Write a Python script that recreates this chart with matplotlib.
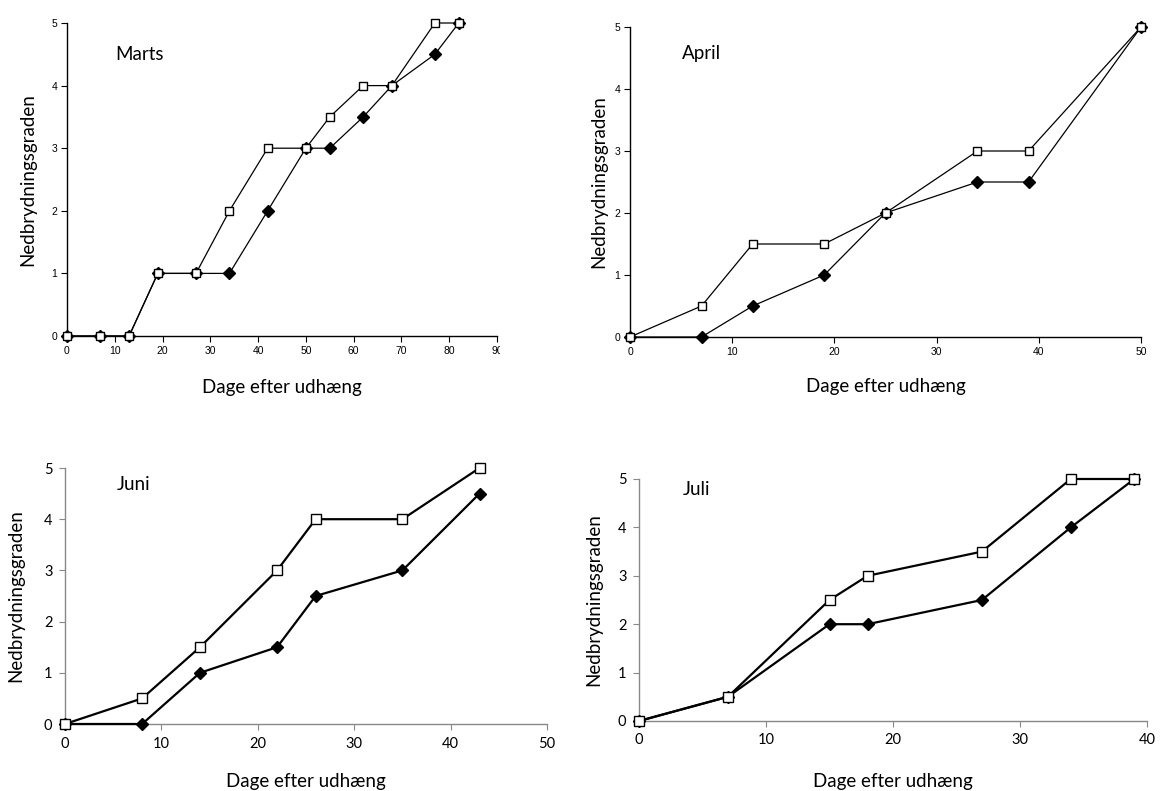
import matplotlib
matplotlib.use("Agg")
import matplotlib.pyplot as plt
from matplotlib.transforms import Bbox

# ---- data ----
marts_x = [0, 7, 13, 19, 27, 34, 42, 50, 55, 62, 68, 77, 82]
marts_open = [0, 0, 0, 1, 1, 2, 3, 3, 3.5, 4, 4, 5, 5]
marts_fill = [0, 0, 0, 1, 1, 1, 2, 3, 3, 3.5, 4, 4.5, 5]

april_x = [0, 7, 12, 19, 25, 34, 39, 50]
april_open = [0, 0.5, 1.5, 1.5, 2, 3, 3, 5]
april_fill = [0, 0, 0.5, 1, 2, 2.5, 2.5, 5]

juni_x = [0, 8, 14, 22, 26, 35, 43]
juni_open = [0, 0.5, 1.5, 3, 4, 4, 5]
juni_fill = [0, 0, 1, 1.5, 2.5, 3, 4.5]

juli_x = [0, 7, 15, 18, 27, 34, 39]
juli_open = [0, 0.5, 2.5, 3, 3.5, 5, 5]
juli_fill = [0, 0.5, 2, 2, 2.5, 4, 5]

xlabel = "Dage efter udhæng"
ylabel = "Nedbrydningsgraden"

W, H = 1161, 791
fig = plt.figure(figsize=(W / 100, H / 100), dpi=100)


def rect(l, r, b, t):
    return [l / W, 1 - b / H, (r - l) / W, (b - t) / H]


panels = [
    dict(name="Marts", x=marts_x, o=marts_open, f=marts_fill, xmax=90,
         rect=rect(67, 497, 336, 23), txt=(10.0, 4.5), small=True,
         ylx=-0.091, xly=-0.163),
    dict(name="April", x=april_x, o=april_open, f=april_fill, xmax=50,
         rect=rect(630, 1141, 337, 27), txt=(5.1, 4.58), small=True,
         ylx=-0.061, xly=-0.161),
    dict(name="Juni", x=juni_x, o=juni_open, f=juni_fill, xmax=50,
         rect=rect(65, 547, 724, 468), txt=(5.4, 4.67), small=False,
         ylx=-0.102, xly=-0.223),
    dict(name="Juli", x=juli_x, o=juli_open, f=juli_fill, xmax=40,
         rect=rect(639, 1147, 721, 479), txt=(3.46, 4.79), small=False,
         ylx=-0.09, xly=-0.252),
]

axes = []
for p in panels:
    ax = fig.add_axes(p["rect"])
    axes.append(ax)
    small = p["small"]
    lw = 0.9 if small else 1.6
    ms = 6.0 if small else 7.5
    dms = 6.0
    ax.plot(p["x"], p["f"], color="black", lw=lw, marker="D", ms=dms,
            mfc="black", mec="black", zorder=3, clip_on=False)
    ax.plot(p["x"], p["o"], color="black", lw=lw, marker="s", ms=ms,
            mfc="white", mec="black", mew=1.0, zorder=4, clip_on=False)
    ax.set_xlim(0, p["xmax"])
    ax.set_ylim(0, 5)
    ax.set_xticks(range(0, p["xmax"] + 1, 10))
    ax.set_yticks(range(0, 6))
    for s in ["top", "right"]:
        ax.spines[s].set_visible(False)
    spcol = "black" if small else "#888888"
    for s in ["left", "bottom"]:
        ax.spines[s].set_color(spcol)
        ax.spines[s].set_linewidth(1.0)
    if small:
        ax.tick_params(direction="out", length=4, width=0.8, colors="black",
                       labelsize=7.5, pad=3)
        for lab in ax.get_xticklabels() + ax.get_yticklabels():
            lab.set_family("Liberation Sans")
    else:
        ax.tick_params(direction="out", length=4, width=0.8, color="#888888",
                       labelcolor="black", labelsize=10.5, pad=5)
        for lab in ax.get_xticklabels() + ax.get_yticklabels():
            lab.set_family("Lato")
    ax.set_xlabel(xlabel, family="Lato", fontsize=13.5)
    ax.set_ylabel(ylabel, family="Lato", fontsize=13.5)
    ax.xaxis.set_label_coords(0.5, p["xly"])
    ax.yaxis.set_label_coords(p["ylx"], 0.5)
    ax.xaxis.label.set_va("center")
    ax.yaxis.label.set_va("center")
    ax.text(p["txt"][0], p["txt"][1], p["name"], family="Lato", fontsize=13.5,
            va="center", ha="left")

# the "90" label of the first panel is cut off at its right side in the original
last = axes[0].get_xticklabels()[-1]
last.set_clip_box(Bbox([[0, 0], [500, H]]))
last.set_clip_on(True)

fig.savefig("out.png", dpi=100)
